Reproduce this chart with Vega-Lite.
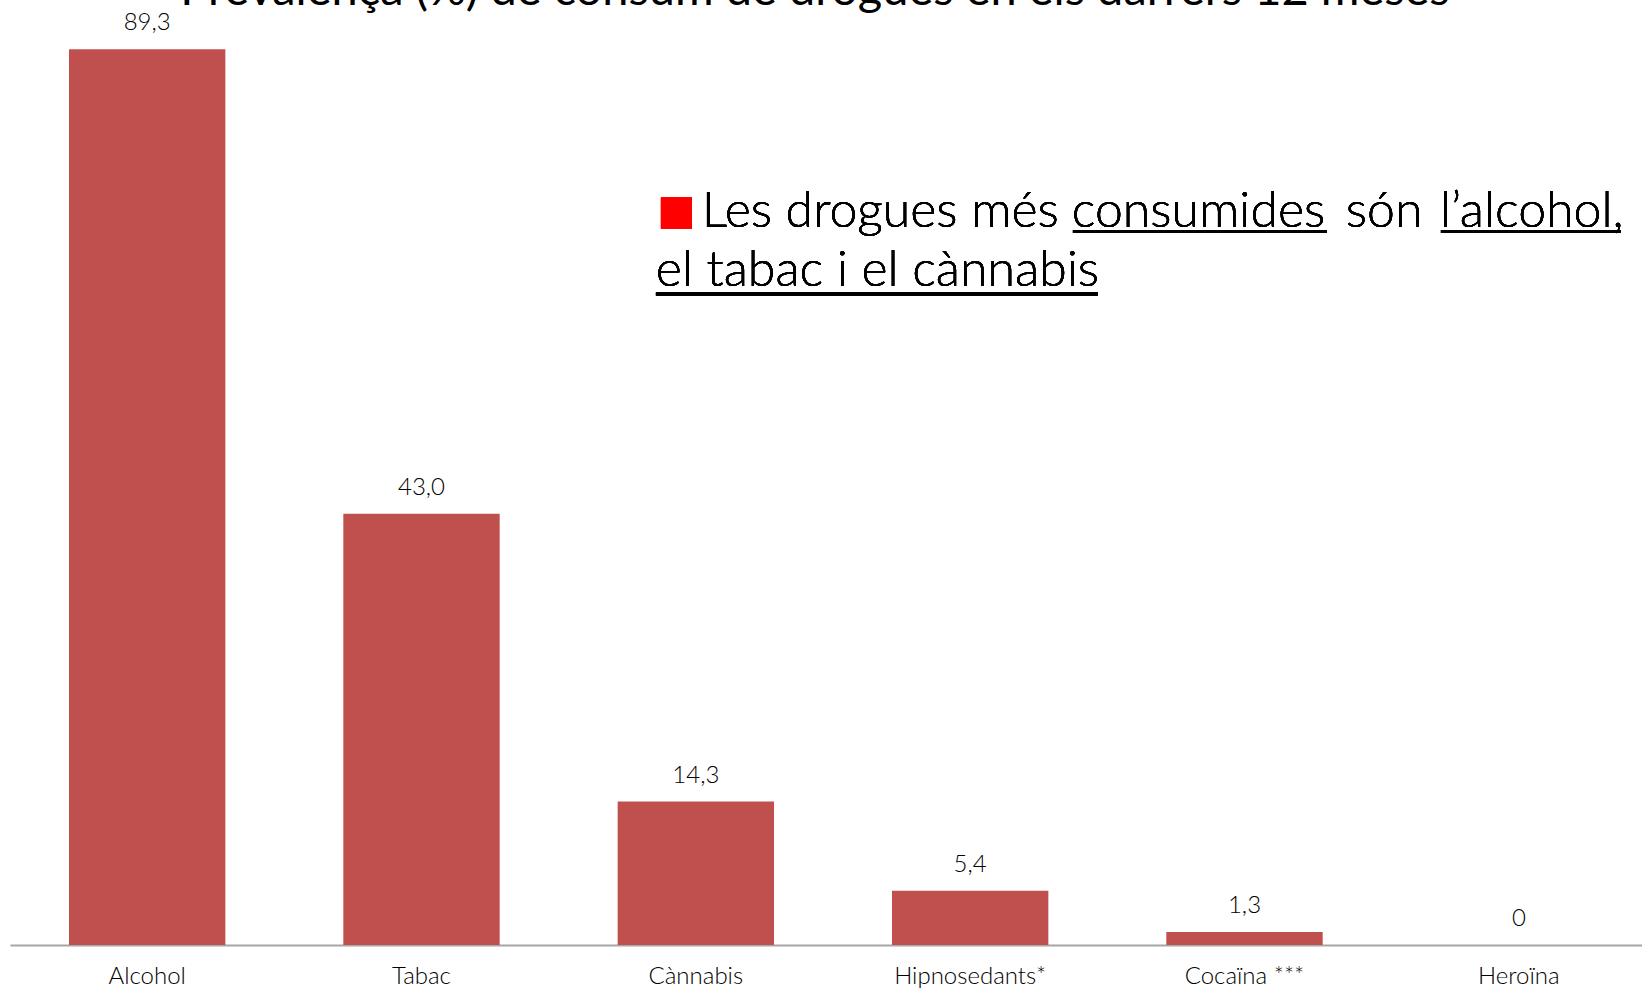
{
  "$schema": "https://vega.github.io/schema/vega-lite/v6.json",
  "width": 1632,
  "height": 945,
  "autosize": {"type": "none"},
  "padding": {"left": 10, "top": 0, "right": 0, "bottom": 45},
  "background": "white",
  "config": {"view": {"stroke": null}, "font": "Lato"},
  "title": {
    "text": "Prevalença (%) de consum de drogues en els darrers 12 meses",
    "font": "Lato",
    "fontSize": 47,
    "fontWeight": 400,
    "color": "black",
    "anchor": "middle",
    "baseline": "alphabetic",
    "offset": 0,
    "dx": -11,
    "dy": 52
  },
  "data": {
    "values": [
      {"droga": "Alcohol", "valor": 89.3, "etiqueta": "89,3"},
      {"droga": "Tabac", "valor": 43.0, "etiqueta": "43,0"},
      {"droga": "Cànnabis", "valor": 14.3, "etiqueta": "14,3"},
      {"droga": "Hipnosedants*", "valor": 5.4, "etiqueta": "5,4"},
      {"droga": "Cocaïna ***", "valor": 1.3, "etiqueta": "1,3"},
      {"droga": "Heroïna", "valor": 0, "etiqueta": "0"}
    ]
  },
  "encoding": {
    "x": {
      "field": "droga",
      "type": "nominal",
      "sort": null,
      "scale": {"range": [0, 1646], "paddingInner": 0.43, "paddingOuter": 0.215},
      "axis": {
        "title": null,
        "labelAngle": 0,
        "ticks": false,
        "grid": false,
        "domainColor": "#a6a6a6",
        "domainWidth": 2,
        "labelFont": "Lato",
        "labelFontSize": 24,
        "labelFontWeight": 300,
        "labelColor": "black",
        "labelBaseline": "alphabetic",
        "labelPadding": 38
      }
    },
    "y": {
      "field": "valor",
      "type": "quantitative",
      "scale": {"domain": [0, 94.2], "nice": false, "zero": true},
      "axis": null
    }
  },
  "layer": [
    {"mark": {"type": "bar", "color": "#c0504d"}},
    {
      "mark": {"type": "text", "font": "Lato", "fontSize": 24, "fontWeight": 300, "color": "black", "baseline": "alphabetic", "dy": -19},
      "encoding": {"text": {"field": "etiqueta"}}
    },
    {
      "mark": {"type": "point", "shape": "square", "size": 961, "filled": true, "color": "#ff0000", "opacity": 1, "xOffset": -19.4},
      "encoding": {"x": {"datum": "Cànnabis"}, "y": {"datum": 72.97}}
    },
    {
      "mark": {"type": "text", "text": "Les drogues més", "font": "Lato", "fontSize": 50, "fontWeight": 300, "color": "black", "align": "left", "baseline": "alphabetic", "dx": 6},
      "encoding": {"x": {"datum": "Cànnabis"}, "y": {"datum": 71.57}}
    },
    {
      "mark": {"type": "text", "text": "consumides", "font": "Lato", "fontSize": 50, "fontWeight": 300, "color": "black", "align": "left", "baseline": "alphabetic", "dx": 376},
      "encoding": {"x": {"datum": "Cànnabis"}, "y": {"datum": 71.57}}
    },
    {
      "mark": {"type": "text", "text": "són", "font": "Lato", "fontSize": 50, "fontWeight": 300, "color": "black", "align": "left", "baseline": "alphabetic", "dx": 650},
      "encoding": {"x": {"datum": "Cànnabis"}, "y": {"datum": 71.57}}
    },
    {
      "mark": {"type": "text", "text": "l’alcohol,", "font": "Lato", "fontSize": 50, "fontWeight": 300, "color": "black", "align": "left", "baseline": "alphabetic", "dx": 744},
      "encoding": {"x": {"datum": "Cànnabis"}, "y": {"datum": 71.57}}
    },
    {
      "mark": {"type": "text", "text": "el tabac i el cànnabis", "font": "Lato", "fontSize": 50, "fontWeight": 300, "color": "black", "align": "left", "baseline": "alphabetic", "dx": -40},
      "encoding": {"x": {"datum": "Cànnabis"}, "y": {"datum": 65.69}}
    },
    {
      "mark": {"type": "rule", "strokeWidth": 3, "color": "black", "xOffset": 377.1, "x2Offset": 631},
      "encoding": {"x": {"datum": "Cànnabis"}, "x2": {"datum": "Cànnabis"}, "y": {"datum": 71.12}}
    },
    {
      "mark": {"type": "rule", "strokeWidth": 3, "color": "black", "xOffset": 745.1, "x2Offset": 925},
      "encoding": {"x": {"datum": "Cànnabis"}, "x2": {"datum": "Cànnabis"}, "y": {"datum": 71.12}}
    },
    {
      "mark": {"type": "rule", "strokeWidth": 3, "color": "black", "xOffset": -39.9, "x2Offset": 402},
      "encoding": {"x": {"datum": "Cànnabis"}, "x2": {"datum": "Cànnabis"}, "y": {"datum": 64.89}}
    }
  ]
}
